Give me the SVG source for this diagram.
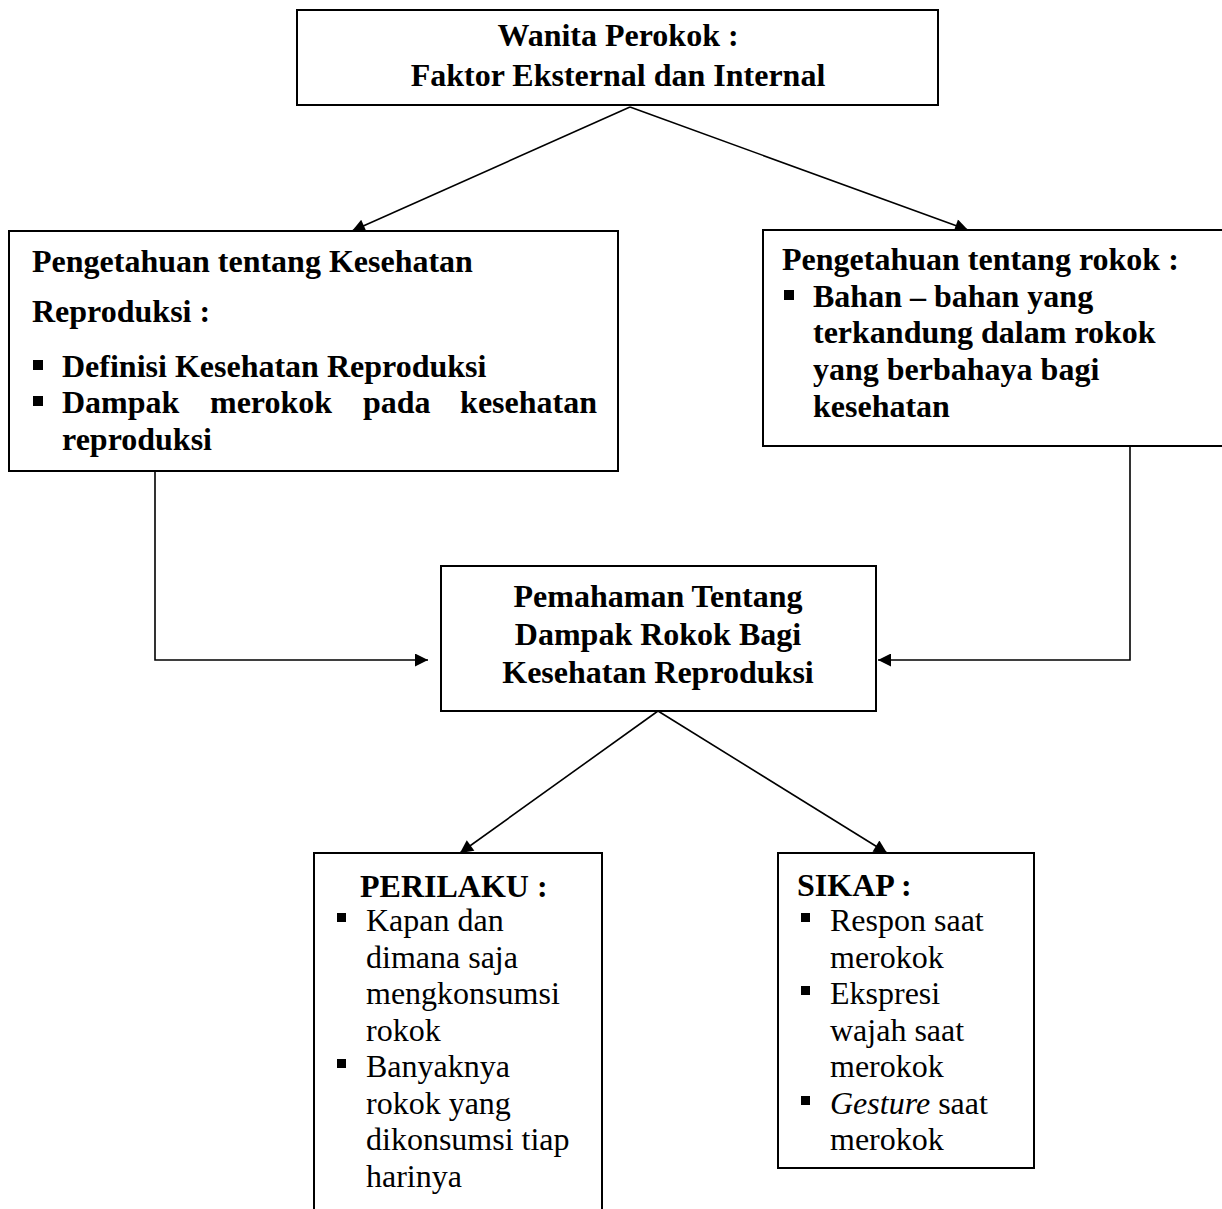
<svg xmlns="http://www.w3.org/2000/svg" width="1222" height="1209" viewBox="0 0 1222 1209">
<defs>
<style>
.box{fill:#fff;stroke:#000;stroke-width:2}
.ln{fill:none;stroke:#000;stroke-width:1.6}
.b{font-family:"Liberation Serif",serif;font-weight:bold;font-size:32px;fill:#000}
.r{font-family:"Liberation Serif",serif;font-size:32px;fill:#000}
.c{text-anchor:middle}
.e{text-anchor:end}
.bul{fill:#000}
</style>
<marker id="ah" viewBox="0 0 10 10" refX="10" refY="5" markerWidth="15" markerHeight="13" markerUnits="userSpaceOnUse" orient="auto">
<path d="M0,0 L10,5 L0,10 Z" fill="#000"/>
</marker>
</defs>
<g id="connectors">
<line class="ln" x1="630" y1="107" x2="352" y2="231" marker-end="url(#ah)"/>
<line class="ln" x1="630" y1="107" x2="968" y2="230" marker-end="url(#ah)"/>
<polyline class="ln" points="155,471 155,660 428,660" marker-end="url(#ah)"/>
<polyline class="ln" points="1130,446 1130,660 878,660" marker-end="url(#ah)"/>
<line class="ln" x1="658" y1="711" x2="460" y2="853" marker-end="url(#ah)"/>
<line class="ln" x1="658" y1="711" x2="887" y2="853" marker-end="url(#ah)"/>
</g>
<g id="top">
<rect class="box" x="297" y="10" width="641" height="95"/>
<text class="b c" x="618" y="46">Wanita Perokok :</text>
<text class="b c" x="618" y="86">Faktor Eksternal dan Internal</text>
</g>
<g id="left">
<rect class="box" x="9" y="231" width="609" height="240"/>
<text class="b" x="32" y="272">Pengetahuan tentang Kesehatan</text>
<text class="b" x="32" y="322">Reproduksi :</text>
<rect class="bul" x="33" y="360" width="10" height="10"/>
<text class="b" x="62" y="377">Definisi Kesehatan Reproduksi</text>
<rect class="bul" x="33" y="396" width="10" height="10"/>
<text class="b" x="62" y="413">Dampak</text>
<text class="b" x="210" y="413">merokok</text>
<text class="b" x="363" y="413">pada</text>
<text class="b e" x="597" y="413">kesehatan</text>
<text class="b" x="62" y="450">reproduksi</text>
</g>
<g id="right">
<rect class="box" x="763" y="230" width="470" height="216"/>
<text class="b" x="782" y="270">Pengetahuan tentang rokok :</text>
<rect class="bul" x="784" y="290" width="10" height="10"/>
<text class="b" x="813" y="307">Bahan – bahan yang</text>
<text class="b" x="813" y="343">terkandung dalam rokok</text>
<text class="b" x="813" y="380">yang berbahaya bagi</text>
<text class="b" x="813" y="417">kesehatan</text>
</g>
<g id="middle">
<rect class="box" x="441" y="566" width="435" height="145"/>
<text class="b c" x="658" y="607">Pemahaman Tentang</text>
<text class="b c" x="658" y="645">Dampak Rokok Bagi</text>
<text class="b c" x="658" y="683">Kesehatan Reproduksi</text>
</g>
<g id="perilaku">
<path class="box" d="M314,1212 L314,853 L602,853 L602,1212"/>
<text class="b" x="360" y="897">PERILAKU  :</text>
<rect class="bul" x="337" y="913" width="9" height="9"/>
<text class="r" x="366" y="931">Kapan  dan</text>
<text class="r" x="366" y="968">dimana saja</text>
<text class="r" x="366" y="1004">mengkonsumsi</text>
<text class="r" x="366" y="1041">rokok</text>
<rect class="bul" x="337" y="1059" width="9" height="9"/>
<text class="r" x="366" y="1077">Banyaknya</text>
<text class="r" x="366" y="1114">rokok yang</text>
<text class="r" x="366" y="1150">dikonsumsi tiap</text>
<text class="r" x="366" y="1187">harinya</text>
</g>
<g id="sikap">
<rect class="box" x="778" y="853" width="256" height="315"/>
<text class="b" x="797" y="896">SIKAP :</text>
<rect class="bul" x="801" y="913" width="9" height="9"/>
<text class="r" x="830" y="931">Respon saat</text>
<text class="r" x="830" y="968">merokok</text>
<rect class="bul" x="801" y="986" width="9" height="9"/>
<text class="r" x="830" y="1004">Ekspresi</text>
<text class="r" x="830" y="1041">wajah saat</text>
<text class="r" x="830" y="1077">merokok</text>
<rect class="bul" x="801" y="1096" width="9" height="9"/>
<text class="r" x="830" y="1114"><tspan font-style="italic">Gesture</tspan> saat</text>
<text class="r" x="830" y="1150">merokok</text>
</g>
</svg>
